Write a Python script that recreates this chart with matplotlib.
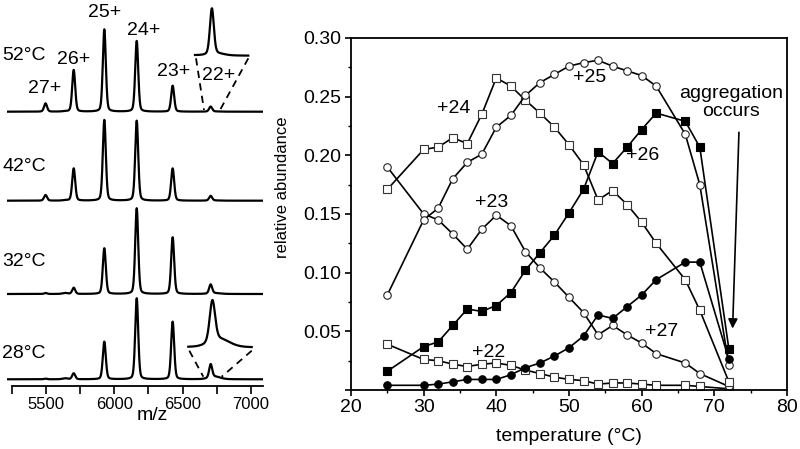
import numpy as np
import matplotlib.pyplot as plt
from matplotlib.ticker import MultipleLocator, FixedLocator

plt.rcParams['font.family'] = ['Liberation Sans', 'DejaVu Sans']
plt.rcParams['font.size'] = 14

# ---- mass spectra (left) ----
charges = ['27+', '26+', '25+', '24+', '23+', '22+']
peak_mz = [5497, 5703, 5927, 6164, 6427, 6705]
spec_temps = ['52°C', '42°C', '32°C', '28°C']
spec_heights = {
    '52°C': [8.3, 41.7, 82.3, 70.7, 26.0, 5.0],
    '42°C': [5.7, 32.3, 80.7, 80.0, 32.3, 4.7],
    '32°C': [1.0, 6.3, 45.7, 85.7, 56.7, 9.0],
    '28°C': [0.6, 6.0, 37.6, 81.0, 57.6, 13.3],
}
# small extra features (impurity bump, adduct tail on 22+)
minor_mz = [5640, 6735]
minor_w = [45, 95]
minor_heights = {
    '52°C': [0.3, 0.2],
    '42°C': [0.3, 0.2],
    '32°C': [1.0, 0.8],
    '28°C': [1.0, 2.6],
}

# ---- relative abundance (right) ----
temps = [25, 30, 32, 34, 36, 38, 40, 42, 44, 46, 48, 50, 52, 54, 56, 58, 60, 62, 66, 68, 72]
ab22 = [0.039, 0.026, 0.025, 0.022, 0.020, 0.022, 0.023, 0.021, 0.017, 0.014, 0.011,
        0.009, 0.008, 0.005, 0.006, 0.006, 0.005, 0.004, 0.004, 0.003, 0.001]
ab23 = [0.190, 0.150, 0.145, 0.133, 0.120, 0.137, 0.149, 0.140, 0.118, 0.104, 0.092,
        0.079, 0.066, 0.047, 0.055, 0.047, 0.040, 0.031, 0.023, 0.014, 0.003]
ab24 = [0.171, 0.205, 0.207, 0.215, 0.210, 0.235, 0.266, 0.259, 0.247, 0.236, 0.224,
        0.209, 0.192, 0.162, 0.170, 0.158, 0.143, 0.125, 0.094, 0.068, 0.007]
ab25 = [0.081, 0.145, 0.155, 0.180, 0.194, 0.201, 0.224, 0.234, 0.251, 0.262, 0.269,
        0.276, 0.279, 0.281, 0.276, 0.272, 0.268, 0.259, 0.218, 0.175, 0.021]
ab26 = [0.016, 0.037, 0.041, 0.055, 0.069, 0.067, 0.072, 0.083, 0.102, 0.117, 0.132,
        0.151, 0.171, 0.203, 0.193, 0.207, 0.222, 0.236, 0.229, 0.207, 0.035]
ab27 = [0.004, 0.004, 0.005, 0.007, 0.009, 0.009, 0.009, 0.013, 0.019, 0.023, 0.029,
        0.036, 0.046, 0.064, 0.061, 0.071, 0.081, 0.094, 0.109, 0.109, 0.026]


def peak(x, c, h, w=26.0):
    g = np.exp(-4 * np.log(2) * (x - c) ** 2 / w ** 2)
    l = 1.0 / (1 + 4 * (x - c) ** 2 / w ** 2)
    return h * (0.75 * g + 0.25 * l)


def spectrum(x, t):
    x = np.asarray(x, dtype=float)
    y = np.zeros_like(x)
    for c, h in zip(peak_mz, spec_heights[t]):
        y += peak(x, c, h)
    for c, w, h in zip(minor_mz, minor_w, minor_heights[t]):
        y += peak(x, c, h, w)
    return y


W, H = 800, 449
fig = plt.figure(figsize=(8, 4.49), dpi=100)


def box(x0, x1, ytop, ybot):
    # pixel box -> figure fraction
    return [x0 / W, 1 - ybot / H, (x1 - x0) / W, (ybot - ytop) / H]


axL = fig.add_axes(box(7, 263, 0, 385.7))
mz = np.linspace(5215, 7088, 4000)
offsets = {'52°C': 274, '42°C': 185, '32°C': 91.7, '28°C': 6.4}
label_y = {'52°C': 330.7, '42°C': 219, '32°C': 124, '28°C': 32.4}
for t in spec_temps:
    axL.plot(mz, spectrum(mz, t) + offsets[t], color='black', lw=1.6)
    axL.text(5180, label_y[t], t, ha='left', va='center', fontsize=14)

lab_pos = [(45, 88.3), (74, 60), (105, 12.7), (144, 30.7), (173.3, 71), (218.3, 75)]
for ch, (px, py) in zip(charges, lab_pos):
    axL.text(5215 + (px - 7) / 0.13667, 385.7 - py, ch, ha='center', va='center', fontsize=14)

axL.set_xlim(5215, 7088)
axL.set_ylim(0, 385.7)
for s in ['left', 'right', 'top']:
    axL.spines[s].set_visible(False)
axL.spines['bottom'].set_bounds(5250, 7088)
axL.spines['bottom'].set_linewidth(1.3)
axL.set_yticks([])
axL.xaxis.set_major_locator(FixedLocator([5500, 6000, 6500, 7000]))
axL.xaxis.set_minor_locator(FixedLocator([5250, 5750, 6250, 6750]))
axL.tick_params(axis='x', which='major', length=6, width=1.2, direction='out', labelsize=12, pad=2)
axL.tick_params(axis='x', which='minor', length=6, width=1.2, direction='out')
axL.set_xlabel('m/z', fontsize=14)
axL.xaxis.set_label_coords(0.566, -0.076)
axL.xaxis.label.set_va('center')
axL.patch.set_alpha(0)


def px2mz(px):
    return 5215 + (px - 7) / 0.13667


# dashed zoom guides
for (x0, y0), (x1, y1) in [((196, 58.3), (204, 110)), ((248.3, 58.3), (220, 110)),
                           ((189.3, 350.7), (203.3, 376.7)), ((251.7, 350.7), (221.7, 376.7))]:
    axL.plot([px2mz(x0), px2mz(x1)], [385.7 - y0, 385.7 - y1], color='black',
             lw=1.3, ls=(0, (4, 3)))

# insets
for t, bx, xr in [('52°C', box(195, 248.3, 8.3, 55), (6610, 6910)),
                  ('28°C', box(188.3, 251.7, 300, 346.7), (6607, 6865))]:
    ai = fig.add_axes(bx)
    xi = np.linspace(xr[0], xr[1], 800)
    yi = spectrum(xi, t) - spectrum([xr[0]], t)[0]
    ai.plot(xi, yi, color='black', lw=1.6, clip_on=False)
    ai.set_xlim(*xr)
    ai.set_ylim(0, yi.max())
    ai.axis('off')

# ---- right panel ----
ax = fig.add_axes(box(351, 787, 38, 390))
mk = dict(ms=5.4, mew=0.8, lw=1.2, color='black')
ax.plot(temps, ab22, marker='s', mfc='white', mec='#333333', **mk)
ax.plot(temps, ab23, marker='o', mfc='white', mec='#222222', **mk)
ax.plot(temps, ab24, marker='s', mfc='white', mec='#333333', **mk)
ax.plot(temps, ab25, marker='o', mfc='white', mec='#222222', **mk)
ax.plot(temps, ab26, marker='s', mfc='black', mec='black', **mk)
ax.plot(temps, ab27, marker='o', mfc='black', mec='black', **mk)

ax.set_xlim(20, 80)
ax.set_ylim(0, 0.30)
ax.xaxis.set_major_locator(MultipleLocator(10))
ax.xaxis.set_minor_locator(MultipleLocator(5))
ax.yaxis.set_minor_locator(MultipleLocator(0.025))
ax.set_yticks([0, 0.05, 0.10, 0.15, 0.20, 0.25, 0.30])
ax.set_yticklabels(['', '0.05', '0.10', '0.15', '0.20', '0.25', '0.30'])
ax.tick_params(which='major', length=4.3, width=1.2, direction='out', labelsize=14, pad=2.5)
ax.tick_params(which='minor', length=2.2, width=1.0, direction='out')
for s in ax.spines.values():
    s.set_linewidth(1.3)
ax.set_xlabel('temperature (°C)', fontsize=14)
ax.xaxis.set_label_coords(0.5, -0.1327)
ax.xaxis.label.set_va('center')
ax.set_ylabel('relative abundance', fontsize=12)
ax.yaxis.set_label_coords(-0.156, 0.577)
ax.yaxis.label.set_va('center')

for txt, tx, ty in [('+24', 34.2, 0.240), ('+23', 39.3, 0.160), ('+25', 52.9, 0.266),
                    ('+26', 60.2, 0.200), ('+27', 62.8, 0.050), ('+22', 38.9, 0.032)]:
    ax.text(tx, ty, txt, ha='center', va='center', fontsize=14)

ax.text(72.3, 0.245, 'aggregation\noccurs', ha='center', va='center', fontsize=14,
        linespacing=1.05)
ax.annotate('', xy=(72.5, 0.050), xytext=(73.4, 0.222),
            arrowprops=dict(arrowstyle='-|>', color='black', lw=1.2, mutation_scale=14))

fig.savefig('out.png', dpi=100)
